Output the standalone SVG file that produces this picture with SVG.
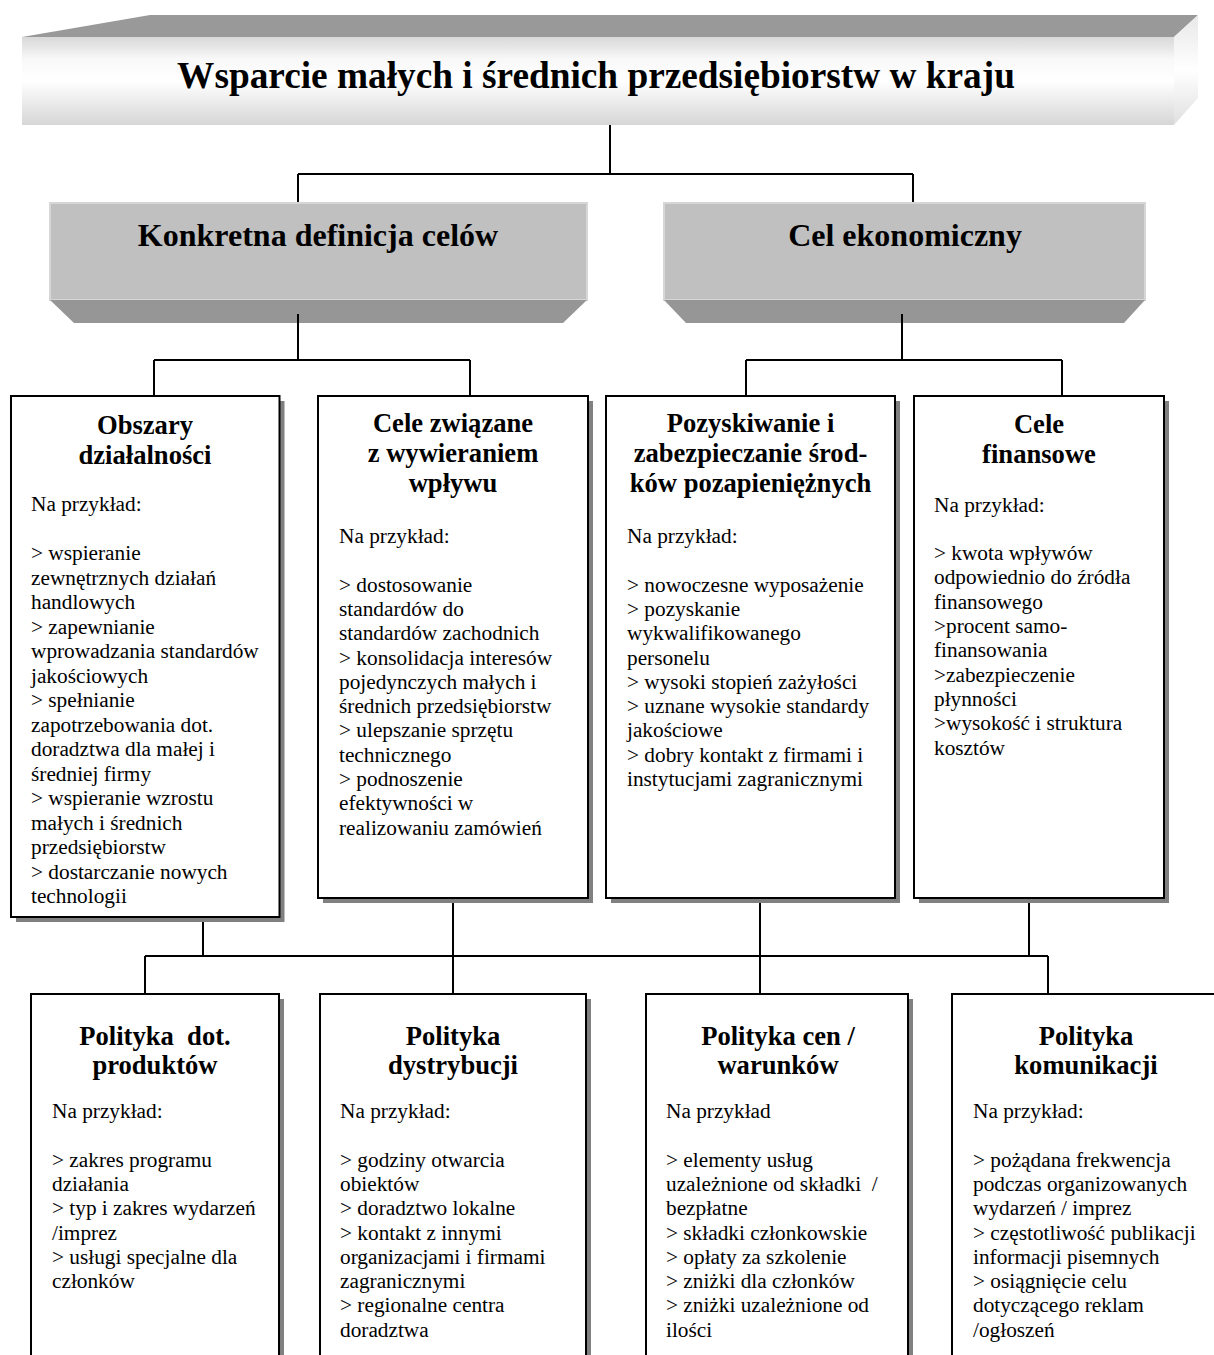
<svg xmlns="http://www.w3.org/2000/svg" width="1214" height="1355" viewBox="0 0 1214 1355">
<defs>
<linearGradient id="gFront" x1="0" y1="0" x2="0" y2="1">
<stop offset="0" stop-color="#d8d8d8"/>
<stop offset="0.25" stop-color="#f8f8f8"/>
<stop offset="0.5" stop-color="#ffffff"/>
<stop offset="1" stop-color="#d6d6d6"/>
</linearGradient>
<linearGradient id="gSide" x1="0" y1="0" x2="0" y2="1">
<stop offset="0" stop-color="#e8e8e8"/>
<stop offset="0.5" stop-color="#ffffff"/>
<stop offset="1" stop-color="#e0e0e0"/>
</linearGradient>
</defs>
<style>
.t{font-family:"Liberation Serif","Times New Roman",serif;fill:#000}
.h1{font-size:37.3px;font-weight:bold}
.h2{font-size:32px;font-weight:bold}
.h3{font-size:26.6px;font-weight:bold}
.b{font-size:21.3px}
.box{fill:#fff;stroke:#000;stroke-width:2}
.sh{fill:#808080}
.front2{fill:#c0c0c0;stroke:#d6d6d6;stroke-width:2}
.bevel{fill:#969696}
.c{fill:none;stroke:#000;stroke-width:2}
</style>

<g id="banner">
<polygon points="22,37 150,15 1198,15 1174,37" fill="#999999"/>
<polygon points="1174,37 1198,15 1198,98 1174,125" fill="url(#gSide)"/>
<rect x="22" y="37" width="1152" height="88" fill="url(#gFront)"/>
<text class="t h1" x="596" y="88" text-anchor="middle">Wsparcie małych i średnich przedsiębiorstw w kraju</text>
</g>

<g id="connectors">
<path class="c" d="M610,125V174M298,174H913M298,174V203M913,174V203"/>
<path class="c" d="M298,314V360M154,360H470M154,360V396M470,360V396"/>
<path class="c" d="M902,314V360M746,360H1062M746,360V396M1062,360V396"/>
<path class="c" d="M203,917V956M145,956H1048M145,956V994M1048,956V994M453,898V994M760,898V994M1029,898V956"/>
</g>

<g id="konkretna">
<rect class="front2" x="50" y="203" width="537" height="97"/>
<polygon class="bevel" points="50,300 587,300 563,323 74,323"/>
<line class="c" x1="298" y1="314" x2="298" y2="323"/>
<text class="t h2" x="318" y="246" text-anchor="middle">Konkretna definicja celów</text>
</g>

<g id="ekonomiczny">
<rect class="front2" x="664" y="203" width="481" height="97"/>
<polygon class="bevel" points="664,300 1145,300 1124,323 686,323"/>
<line class="c" x1="902" y1="314" x2="902" y2="323"/>
<text class="t h2" x="905" y="246" text-anchor="middle">Cel ekonomiczny</text>
</g>

<g id="obszary">
<rect class="sh" x="16" y="401" width="268.5" height="521"/>
<rect class="box" x="11" y="396" width="268.5" height="521"/>
<text class="t h3" text-anchor="middle"><tspan x="145" y="434">Obszary</tspan><tspan x="145" y="463.5">działalności</tspan></text>
<text class="t b"><tspan x="31" y="511">Na przykład:</tspan><tspan x="31" dy="49">&gt; wspieranie</tspan><tspan x="31" dy="24.5">zewnętrznych działań</tspan><tspan x="31" dy="24.5">handlowych</tspan><tspan x="31" dy="24.5">&gt; zapewnianie</tspan><tspan x="31" dy="24.5">wprowadzania standardów</tspan><tspan x="31" dy="24.5">jakościowych</tspan><tspan x="31" dy="24.5">&gt; spełnianie</tspan><tspan x="31" dy="24.5">zapotrzebowania dot.</tspan><tspan x="31" dy="24.5">doradztwa dla małej i</tspan><tspan x="31" dy="24.5">średniej firmy</tspan><tspan x="31" dy="24.5">&gt;  wspieranie wzrostu</tspan><tspan x="31" dy="24.5">małych i średnich</tspan><tspan x="31" dy="24.5">przedsiębiorstw</tspan><tspan x="31" dy="24.5">&gt; dostarczanie nowych</tspan><tspan x="31" dy="24.5">technologii</tspan></text>
</g>

<g id="wplyw">
<rect class="sh" x="323" y="401" width="270" height="502"/>
<rect class="box" x="318" y="396" width="270" height="502"/>
<text class="t h3" text-anchor="middle"><tspan x="453" y="432">Cele związane</tspan><tspan x="453" y="462">z wywieraniem</tspan><tspan x="453" y="492">wpływu</tspan></text>
<text class="t b"><tspan x="339" y="543">Na przykład:</tspan><tspan x="339" dy="48.6">&gt; dostosowanie</tspan><tspan x="339" dy="24.3">standardów do</tspan><tspan x="339" dy="24.3">standardów zachodnich</tspan><tspan x="339" dy="24.3">&gt; konsolidacja interesów</tspan><tspan x="339" dy="24.3">pojedynczych małych i</tspan><tspan x="339" dy="24.3">średnich przedsiębiorstw</tspan><tspan x="339" dy="24.3">&gt; ulepszanie sprzętu</tspan><tspan x="339" dy="24.3">technicznego</tspan><tspan x="339" dy="24.3">&gt; podnoszenie</tspan><tspan x="339" dy="24.3">efektywności w</tspan><tspan x="339" dy="24.3">realizowaniu zamówień</tspan></text>
</g>

<g id="pozyskiwanie">
<rect class="sh" x="611" y="401" width="289" height="502"/>
<rect class="box" x="606" y="396" width="289" height="502"/>
<text class="t h3" text-anchor="middle"><tspan x="750.5" y="432">Pozyskiwanie i</tspan><tspan x="750.5" y="462">zabezpieczanie środ-</tspan><tspan x="750.5" y="492">ków pozapieniężnych</tspan></text>
<text class="t b"><tspan x="627" y="543">Na przykład:</tspan><tspan x="627" dy="48.6">&gt; nowoczesne wyposażenie</tspan><tspan x="627" dy="24.3">&gt; pozyskanie</tspan><tspan x="627" dy="24.3">wykwalifikowanego</tspan><tspan x="627" dy="24.3">personelu</tspan><tspan x="627" dy="24.3">&gt; wysoki stopień zażyłości</tspan><tspan x="627" dy="24.3">&gt; uznane wysokie standardy</tspan><tspan x="627" dy="24.3">jakościowe</tspan><tspan x="627" dy="24.3">&gt; dobry kontakt z firmami i</tspan><tspan x="627" dy="24.3">instytucjami zagranicznymi</tspan></text>
</g>

<g id="finansowe">
<rect class="sh" x="919" y="401" width="250" height="502"/>
<rect class="box" x="914" y="396" width="250" height="502"/>
<text class="t h3" text-anchor="middle"><tspan x="1039" y="433">Cele</tspan><tspan x="1039" y="463">finansowe</tspan></text>
<text class="t b"><tspan x="934" y="511.5">Na przykład:</tspan><tspan x="934" dy="48.6">&gt; kwota wpływów</tspan><tspan x="934" dy="24.3">odpowiednio do źródła</tspan><tspan x="934" dy="24.3">finansowego</tspan><tspan x="934" dy="24.3">&gt;procent samo-</tspan><tspan x="934" dy="24.3">finansowania</tspan><tspan x="934" dy="24.3">&gt;zabezpieczenie</tspan><tspan x="934" dy="24.3">płynności</tspan><tspan x="934" dy="24.3">&gt;wysokość i  struktura</tspan><tspan x="934" dy="24.3">kosztów</tspan></text>
</g>

<g id="produkty">
<rect class="sh" x="36" y="999" width="248" height="400"/>
<rect class="box" x="31" y="994" width="248" height="400"/>
<text class="t h3" text-anchor="middle" xml:space="preserve"><tspan x="155" y="1045">Polityka  dot.</tspan><tspan x="155" y="1074">produktów</tspan></text>
<text class="t b"><tspan x="52" y="1118">Na przykład:</tspan><tspan x="52" dy="48.6">&gt; zakres programu</tspan><tspan x="52" dy="24.3">działania</tspan><tspan x="52" dy="24.3">&gt; typ i zakres wydarzeń</tspan><tspan x="52" dy="24.3">/imprez</tspan><tspan x="52" dy="24.3">&gt; usługi specjalne dla</tspan><tspan x="52" dy="24.3">członków</tspan></text>
</g>

<g id="dystrybucja">
<rect class="sh" x="325" y="999" width="266" height="400"/>
<rect class="box" x="320" y="994" width="266" height="400"/>
<text class="t h3" text-anchor="middle"><tspan x="453" y="1045">Polityka</tspan><tspan x="453" y="1074">dystrybucji</tspan></text>
<text class="t b"><tspan x="340" y="1118">Na przykład:</tspan><tspan x="340" dy="48.6">&gt; godziny otwarcia</tspan><tspan x="340" dy="24.3">obiektów</tspan><tspan x="340" dy="24.3">&gt; doradztwo lokalne</tspan><tspan x="340" dy="24.3">&gt; kontakt z innymi</tspan><tspan x="340" dy="24.3">organizacjami i firmami</tspan><tspan x="340" dy="24.3">zagranicznymi</tspan><tspan x="340" dy="24.3">&gt; regionalne centra</tspan><tspan x="340" dy="24.3">doradztwa</tspan></text>
</g>

<g id="ceny">
<rect class="sh" x="651" y="999" width="262" height="400"/>
<rect class="box" x="646" y="994" width="262" height="400"/>
<text class="t h3" text-anchor="middle"><tspan x="778" y="1045">Polityka cen /</tspan><tspan x="778" y="1074">warunków</tspan></text>
<text class="t b" xml:space="preserve"><tspan x="666" y="1118">Na przykład</tspan><tspan x="666" dy="48.6">&gt; elementy usług</tspan><tspan x="666" dy="24.3">uzależnione od składki  /</tspan><tspan x="666" dy="24.3">bezpłatne</tspan><tspan x="666" dy="24.3">&gt; składki członkowskie</tspan><tspan x="666" dy="24.3">&gt; opłaty za szkolenie</tspan><tspan x="666" dy="24.3">&gt; zniżki dla członków</tspan><tspan x="666" dy="24.3">&gt; zniżki uzależnione od</tspan><tspan x="666" dy="24.3">ilości</tspan></text>
</g>

<g id="komunikacja">
<rect class="sh" x="957" y="999" width="270" height="400"/>
<rect class="box" x="952" y="994" width="270" height="400"/>
<text class="t h3" text-anchor="middle"><tspan x="1086" y="1045">Polityka</tspan><tspan x="1086" y="1074">komunikacji</tspan></text>
<text class="t b"><tspan x="973" y="1118">Na przykład:</tspan><tspan x="973" dy="48.6">&gt; pożądana frekwencja</tspan><tspan x="973" dy="24.3">podczas organizowanych</tspan><tspan x="973" dy="24.3">wydarzeń / imprez</tspan><tspan x="973" dy="24.3">&gt; częstotliwość publikacji</tspan><tspan x="973" dy="24.3">informacji pisemnych</tspan><tspan x="973" dy="24.3">&gt; osiągnięcie celu</tspan><tspan x="973" dy="24.3">dotyczącego reklam</tspan><tspan x="973" dy="24.3">/ogłoszeń</tspan></text>
</g>
</svg>
